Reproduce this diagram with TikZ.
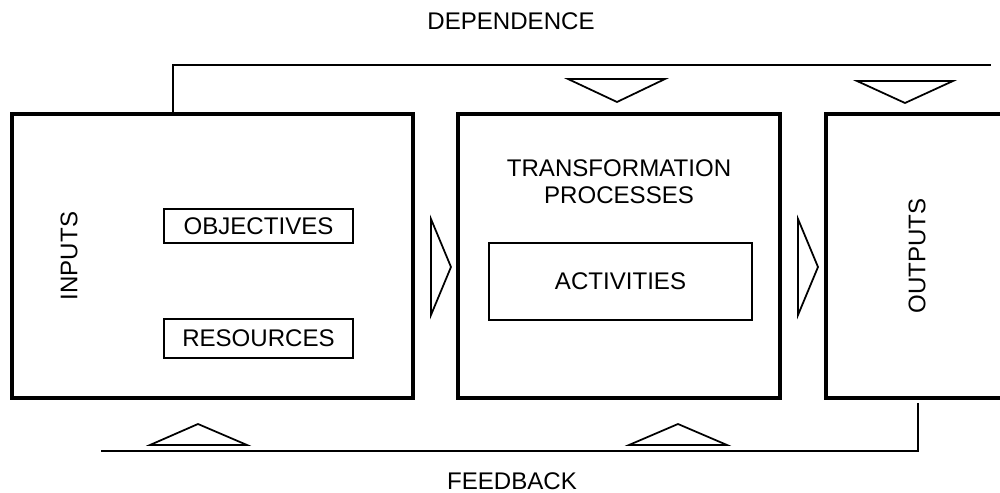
\documentclass[tikz,border=0pt]{standalone}
\usepackage{fontspec}
\setmainfont{Liberation Sans}
\usetikzlibrary{positioning}
\tikzset{
    big box/.style = {
        draw,
        line width=2.2pt,
        minimum height=5.68cm,
        },
    small box/.style = {
        draw,
        line width=1pt,
        },
    link/.style = {
        draw,
        line width=1pt,
        },
    flow/.style = {
        draw,
        line width=1pt,
        line join=miter,
        },
    label text/.style = {
        font=\fontsize{13.7}{15.3}\selectfont,
        },
}

\begin{document}
\begin{tikzpicture}[every node/.style={label text}]
            \clip (0,0) rectangle (20,9.84);

            \node[big box, minimum width=8.02cm] (inputs) at (4.25,4.72) {};
            \node[big box, minimum width=6.44cm] (transform) at (12.38,4.72) {};
            \node[big box, minimum width=3.64cm] (outputs) at (18.34,4.72) {};

            \node[rotate=90] (in text) at (1.38,4.72) {INPUTS};
            \node[rotate=90] (out text) at (outputs.center) {OUTPUTS};
            \node[align=center] (tp text) at (12.38,6.21) {TRANSFORMATION\\PROCESSES};

            \node[small box, minimum width=3.78cm, minimum height=0.68cm] (objectives) at (5.17,5.32) {OBJECTIVES};
            \node[small box, minimum width=3.78cm, minimum height=0.78cm] (resources) at (5.17,3.07) {RESOURCES};
            \node[small box, minimum width=5.26cm, minimum height=1.54cm] (activities) at (12.41,4.21) {ACTIVITIES};

            \node (dependence) at (10.22,9.41) {DEPENDENCE};
            \node (feedback) at (10.24,0.22) {FEEDBACK};

            % dependence line
            \coordinate (dep start) at (3.46,7.56);
            \coordinate (dep end) at (19.82,8.54);
            \path[link] (dep start) |- (dep end);

            % feedback line
            \coordinate (fb start) at (18.36,1.78);
            \coordinate (fb end) at (2.02,0.82);
            \path[link] (fb start) |- (fb end);

            % triangles down
            \path[flow] (11.36,8.26) -- (13.30,8.26) -- (12.34,7.80) -- cycle;
            \path[flow] (17.14,8.22) -- (19.06,8.22) -- (18.10,7.78) -- cycle;
            % triangles right
            \path[flow] (8.62,5.46) -- (9.02,4.50) -- (8.62,3.54) -- cycle;
            \path[flow] (15.96,5.46) -- (16.36,4.50) -- (15.96,3.54) -- cycle;
            % triangles up
            \path[flow] (3.00,0.94) -- (4.94,0.94) -- (3.96,1.36) -- cycle;
            \path[flow] (12.58,0.94) -- (14.54,0.94) -- (13.56,1.36) -- cycle;
        \end{tikzpicture}
\end{document}
